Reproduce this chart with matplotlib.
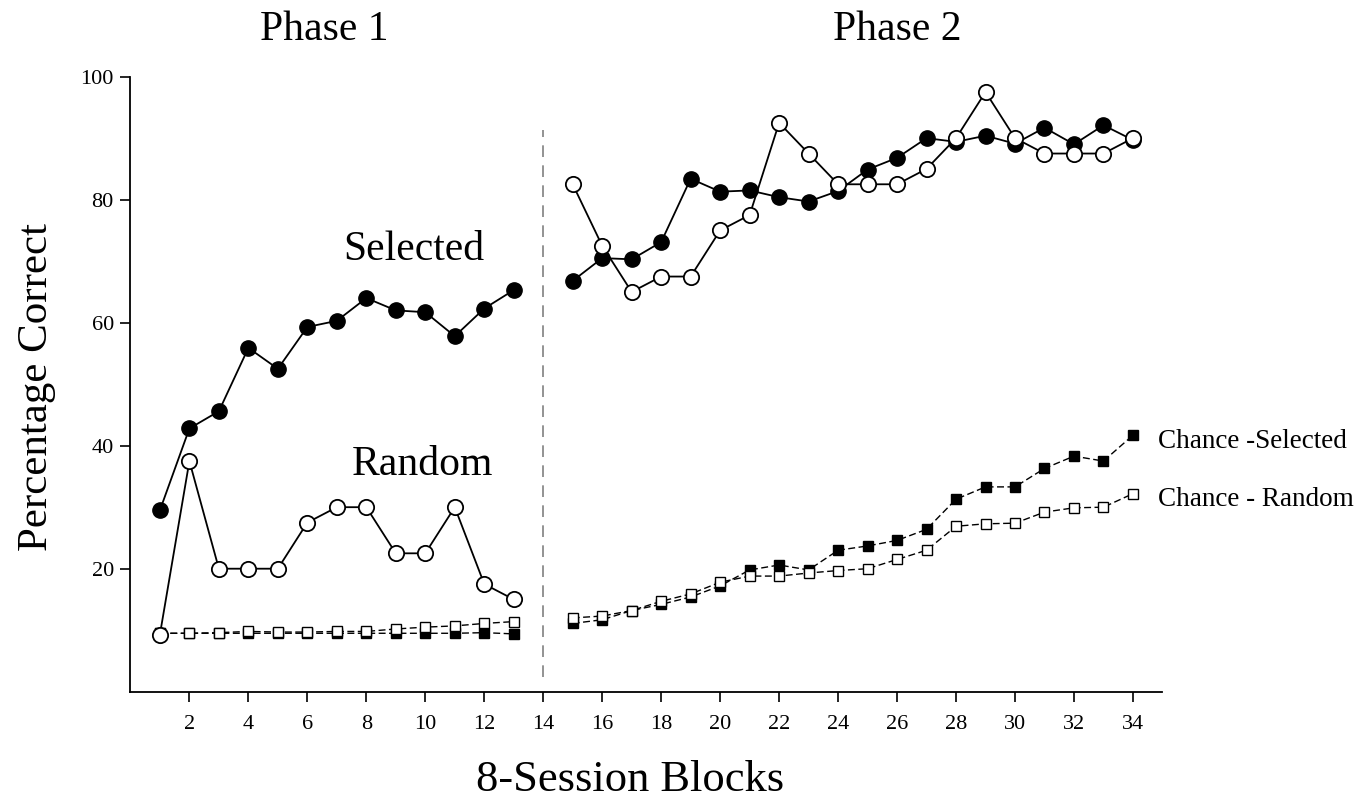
import numpy as np
import matplotlib
matplotlib.use('Agg')
import matplotlib.pyplot as plt

plt.rcParams['font.family'] = ['Liberation Serif', 'DejaVu Serif']

blocks = np.arange(1, 35)

# percentage correct per 8-session block; block 14 is the phase boundary
selected = [29.5, 42.8, 45.6, 55.9, 52.5, 59.3, 60.3, 64.0, 62.0, 61.7, 57.8, 62.3, 65.3,
            np.nan,
            66.8, 70.5, 70.3, 73.1, 83.4, 81.3, 81.5, 80.4, 79.7, 81.4, 84.9, 86.8, 90.0,
            89.4, 90.4, 89.1, 91.7, 89.0, 92.1, 89.7]
random_ = [9.3, 37.5, 20.0, 20.0, 20.0, 27.5, 30.0, 30.0, 22.5, 22.5, 30.0, 17.5, 15.0,
           np.nan,
           82.5, 72.5, 65.0, 67.5, 67.5, 75.0, 77.5, 92.5, 87.5, 82.5, 82.5, 82.5, 85.0,
           90.0, 97.5, 90.0, 87.5, 87.5, 87.5, 90.0]
chance_selected = [9.5, 9.5, 9.5, 9.5, 9.5, 9.5, 9.5, 9.5, 9.5, 9.5, 9.5, 9.6, 9.4,
                   np.nan,
                   11.1, 11.7, 13.2, 14.2, 15.4, 17.2, 19.8, 20.6, 19.8, 23.0, 23.7, 24.6, 26.4,
                   31.3, 33.3, 33.3, 36.3, 38.3, 37.5, 41.7]
chance_random = [9.5, 9.5, 9.6, 9.8, 9.7, 9.7, 9.8, 9.8, 10.2, 10.5, 10.7, 11.1, 11.4,
                 np.nan,
                 12.0, 12.3, 13.2, 14.7, 15.9, 17.8, 18.8, 18.8, 19.3, 19.7, 20.0, 21.5, 23.0,
                 26.9, 27.3, 27.4, 29.2, 29.9, 30.0, 32.2]

fig = plt.figure(figsize=(13.7, 8.06), dpi=100)
ax = fig.add_axes([0.0952, 0.1418, 0.7533, 0.7631])

dash = (5, 2.5)
ax.plot(blocks, chance_selected, color='black', lw=1.0, dashes=dash,
        marker='s', ms=6.5, mfc='black', mec='black', zorder=3)
ax.plot(blocks, chance_random, color='black', lw=1.0, dashes=dash,
        marker='s', ms=7, mfc='white', mec='black', mew=1.0, zorder=3)
ax.plot(blocks, selected, color='black', lw=1.3,
        marker='o', ms=11, mfc='black', mec='black', zorder=4)
ax.plot(blocks, random_, color='black', lw=1.3,
        marker='o', ms=11, mfc='white', mec='black', mew=1.3, zorder=5)

# phase boundary
ax.plot([14, 14], [2.4, 91.3], color='#808080', lw=1.2, dashes=(7, 5), zorder=2)

ax.set_xlim(0, 35)
ax.set_ylim(0, 100)
ax.set_xticks(np.arange(2, 35, 2))
ax.set_yticks([20, 40, 60, 80, 100])
ax.tick_params(direction='out', length=7, width=1.2, labelsize=16)
ax.tick_params(axis='x', pad=10)
ax.tick_params(axis='y', pad=5)
for side in ['top', 'right']:
    ax.spines[side].set_visible(False)
for side in ['left', 'bottom']:
    ax.spines[side].set_linewidth(1.3)

ax.text(9.6, 71.8, 'Selected', fontsize=30, ha='center', va='center')
ax.text(9.9, 36.9, 'Random', fontsize=30, ha='center', va='center')
ax.text(34.85, 40.6, 'Chance -Selected', fontsize=19.5, ha='left', va='center')
ax.text(34.85, 31.2, 'Chance - Random', fontsize=19.5, ha='left', va='center')

fig.text(0.237, 0.963, 'Phase 1', fontsize=30, ha='center', va='center')
fig.text(0.655, 0.963, 'Phase 2', fontsize=30, ha='center', va='center')
fig.text(0.027, 0.52, 'Percentage Correct', fontsize=31, rotation=90,
         ha='center', va='center')
fig.text(0.46, 0.032, '8-Session Blocks', fontsize=32, ha='center', va='center')

fig.savefig('out.png', dpi=100)
